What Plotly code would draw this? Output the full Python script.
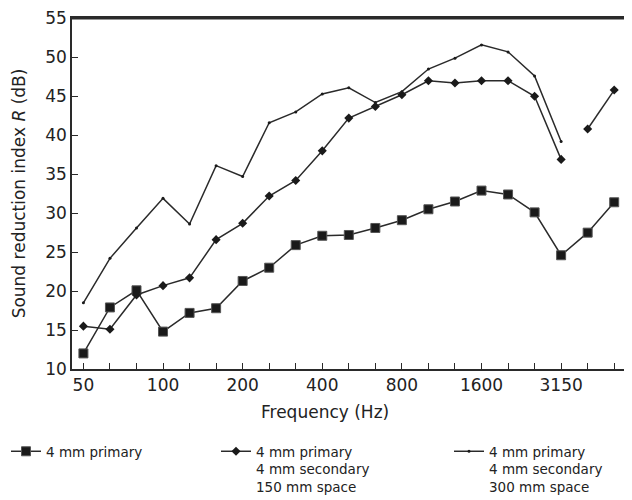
import plotly.graph_objects as go

bands = ["50", "63", "80", "100", "125", "160", "200", "250", "315", "400", "500",
         "630", "800", "1000", "1250", "1600", "2000", "2500", "3150", "4000", "5000"]
shown_labels = ["50", "100", "200", "400", "800", "1600", "3150"]

primary_4mm = [12.0, 17.9, 20.1, 14.8, 17.2, 17.8, 21.3, 23.0, 25.9, 27.1, 27.2,
               28.1, 29.1, 30.5, 31.5, 32.9, 32.4, 30.1, 24.6, 27.5, 31.4]
double_150 = [15.5, 15.1, 19.5, 20.7, 21.7, 26.6, 28.7, 32.2, 34.2, 38.0, 42.2,
              43.7, 45.2, 47.0, 46.7, 47.0, 47.0, 45.0, 36.9, 40.8, 45.8]
double_300 = [18.5, 24.2, 28.1, 31.9, 28.6, 36.1, 34.7, 41.6, 43.0, 45.3, 46.1,
              44.2, 45.6, 48.5, 49.9, 51.6, 50.7, 47.6, 39.2, None, None]

name1 = "4 mm primary"
name2 = "4 mm primary<br>4 mm secondary<br>150 mm space"
name3 = "4 mm primary<br>4 mm secondary<br>300 mm space"

idx = list(range(len(bands)))
col = "#2a2a2a"
font = "DejaVu Sans"

X_RANGE = [-0.43, 20.52]
Y_RANGE = [10, 55.05]

W, H = 624, 492  # page body has an 8 px margin
L, R, T, B = 64, 4, 10, 131
PW, PH = W - L - R, H - T - B

fig = go.Figure()
# top and right edges of the plot frame (follow the axis ranges)
fig.add_trace(go.Scatter(
    x=[X_RANGE[0], X_RANGE[1], X_RANGE[1]], y=[Y_RANGE[1], Y_RANGE[1], Y_RANGE[0]],
    mode="lines", line=dict(color=col, width=3), showlegend=False, hoverinfo="skip",
))
fig.add_trace(go.Scatter(
    x=idx, y=primary_4mm, name=name1, mode="lines+markers", legend="legend",
    line=dict(color=col, width=1.5),
    marker=dict(symbol="square", size=9, color="#1a1a1a", line=dict(color="#555", width=1)),
))
# 150 mm space: measured line broken between 3150 and 4000 Hz
split = bands.index("3150") + 1
fig.add_trace(go.Scatter(
    x=idx[:split], y=double_150[:split], name=name2, mode="lines+markers",
    legend="legend2", legendgroup="g2",
    line=dict(color=col, width=1.5),
    marker=dict(symbol="diamond", size=7, color="#1a1a1a"),
))
fig.add_trace(go.Scatter(
    x=idx[split:], y=double_150[split:], name=name2, mode="lines+markers",
    legend="legend2", legendgroup="g2", showlegend=False,
    line=dict(color=col, width=1.5),
    marker=dict(symbol="diamond", size=7, color="#1a1a1a"),
))
fig.add_trace(go.Scatter(
    x=idx, y=double_300, name=name3, mode="lines+markers", legend="legend3",
    line=dict(color=col, width=1.5),
    marker=dict(symbol="circle", size=3, color="#1a1a1a"),
))

ticktext = [b if b in shown_labels else "" for b in bands]

leg_y = -(428 - (T + PH)) / PH
leg_common = dict(xref="paper", yref="paper", xanchor="left", yanchor="top",
                  y=leg_y, valign="top",
                  font=dict(family=font, size=13.5, color="#222"),
                  bgcolor="rgba(0,0,0,0)", tracegroupgap=0)

fig.update_layout(
    width=W, height=H,
    showlegend=True,
    margin=dict(l=L, r=R, t=T, b=B, autoexpand=False),
    paper_bgcolor="white", plot_bgcolor="white",
    font=dict(family=font, size=17, color="#222"),
    xaxis=dict(
        range=X_RANGE, tickmode="array", tickvals=idx, ticktext=ticktext,
        ticks="inside", ticklen=6, tickwidth=1.2, tickcolor=col,
        showline=True, linecolor=col, linewidth=1.5, mirror=True,
        showgrid=False, zeroline=False,
    ),
    yaxis=dict(
        range=Y_RANGE, tickmode="array", tickvals=list(range(10, 56, 5)),
        ticks="inside", ticklen=6, tickwidth=1.2, tickcolor=col,
        showline=True, linecolor=col, linewidth=1.5, mirror=True,
        showgrid=False, zeroline=False,
        title=dict(text="Sound reduction index <i>R</i> (dB)", font=dict(size=17)),
    ),
    legend=dict(x=(-2 - L) / PW, **leg_common),
    legend2=dict(x=(208 - L) / PW, **leg_common),
    legend3=dict(x=(441 - L) / PW, **leg_common),
    annotations=[dict(
        text="Frequency (Hz)", xref="paper", yref="paper",
        x=(317 - L) / PW, y=-(404 - (T + PH)) / PH, xanchor="center", yanchor="middle",
        showarrow=False, font=dict(family=font, size=17, color="#222"),
    )],
)

fig.write_html("out.html")
